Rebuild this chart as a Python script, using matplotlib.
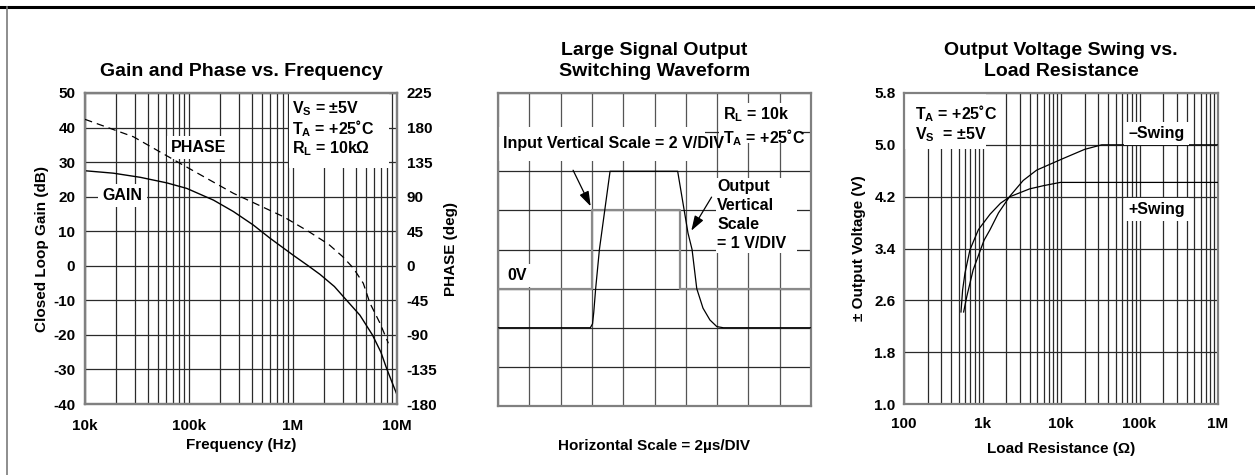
import matplotlib
matplotlib.use("Agg")
import matplotlib.pyplot as plt
from matplotlib.patches import Rectangle
from matplotlib.ticker import FixedLocator, NullFormatter

plt.rcParams["font.family"] = ["Liberation Sans", "DejaVu Sans"]
plt.rcParams["font.weight"] = "bold"
plt.rcParams["axes.labelweight"] = "bold"
plt.rcParams["axes.titleweight"] = "bold"
plt.rcParams["axes.unicode_minus"] = False
plt.rcParams["mathtext.fontset"] = "custom"
plt.rcParams["mathtext.rm"] = "Liberation Sans:bold"
plt.rcParams["mathtext.it"] = "Liberation Sans:bold"
plt.rcParams["mathtext.bf"] = "Liberation Sans:bold"

## data
# gain / phase vs frequency
gain_freq = [1e4, 1.87e4, 3.4e4, 6.1e4, 9.5e4, 1.72e5, 2.67e5, 4.15e5, 6.0e5,
             1.0e6, 1.4e6, 1.82e6, 2.5e6, 3.28e6, 4.4e6, 5.8e6, 7.0e6, 7.9e6,
             8.9e6, 9.9e6]
gain_db = [27.5, 26.8, 25.6, 24.0, 22.4, 19.0, 15.7, 11.8, 8.0,
           3.1, 0.0, -2.5, -6.0, -10.0, -14.3, -20.0, -25.0, -29.5,
           -33.5, -37.0]
phase_freq = [1e4, 2.92e4, 8.2e4, 2.67e5, 8.07e5, 1.4e6, 2.2e6, 3.0e6, 3.8e6,
              4.74e6, 5.5e6, 6.87e6, 8.26e6]
phase_deg = [190.7, 168, 133.4, 94.4, 64, 45, 28, 12, -3,
             -22.8, -48.8, -74.9, -100.9]
freq_ticks = [1e4, 1e5, 1e6, 1e7]
freq_labels = ["10k", "100k", "1M", "10M"]
gain_ticks = [50, 40, 30, 20, 10, 0, -10, -20, -30, -40]
phase_ticks = [225, 180, 135, 90, 45, 0, -45, -90, -135, -180]

# switching waveform, in scope divisions (x: 0..10, y: 0..8)
input_t = [0, 3.0, 3.0, 5.81, 5.81, 10]
input_v = [3, 3, 5, 5, 3, 3]
output_t = [0, 2.95, 3.02, 3.06, 3.12, 3.24, 3.58, 5.74, 6.07, 6.2, 6.35,
            6.55, 6.77, 6.99, 7.2, 10]
output_v = [2, 2, 2.1, 2.4, 3, 4, 6, 6, 4.42, 4, 3, 2.5, 2.2, 2.03, 2, 2]

# output swing vs load
neg_load = [575, 631, 760, 977, 1050, 1247, 1600, 2240, 3300, 4900, 10700,
            20000, 33000, 1e6]
neg_swing = [2.42, 2.66, 3.07, 3.43, 3.53, 3.69, 3.95, 4.21, 4.45, 4.61, 4.79,
             4.93, 5.0, 5.0]
pos_load = [532, 558, 598, 692, 780, 886, 1250, 1700, 2240, 3980, 6000, 9770, 1e6]
pos_swing = [2.42, 2.76, 3.02, 3.38, 3.53, 3.69, 3.93, 4.10, 4.20, 4.32, 4.37,
             4.42, 4.42]
load_ticks = [100, 1e3, 1e4, 1e5, 1e6]
load_labels = ["100", "1k", "10k", "100k", "1M"]
swing_ticks = [1.0, 1.8, 2.6, 3.4, 4.2, 5.0, 5.8]

W, H = 1255, 475
fig = plt.figure(figsize=(W / 100, H / 100), dpi=100)


def px_axes(x0, x1, y0, y1):
    return fig.add_axes([x0 / W, 1 - y1 / H, (x1 - x0) / W, (y1 - y0) / H])


GRID = "#2a2a2a"
SPINE = "#808080"
TXT = 11.5


def style(ax):
    for s in ax.spines.values():
        s.set_color(SPINE)
        s.set_linewidth(1.6)
    ax.set_axisbelow(True)
    ax.tick_params(which="both", length=0, labelsize=11, pad=7)


def white_box(ax, x, y, w, h, transform=None):
    ax.add_patch(Rectangle((x, y), w, h, facecolor="white", edgecolor="none",
                           zorder=2, transform=transform or ax.transAxes,
                           clip_on=False))


# frame lines around the page
fig.add_artist(plt.Line2D([0, 1], [1 - 6.5 / H] * 2, color="black", lw=2.2))
fig.add_artist(plt.Line2D([7 / W] * 2, [0, 1 - 6.5 / H], color="#7a7a7a", lw=1.2))

## panel 1: gain and phase
ax1 = px_axes(85, 397, 93, 404)
style(ax1)
ax1.set_xscale("log")
ax1.set_xlim(1e4, 1e7)
ax1.set_ylim(-40, 50)
ax1.xaxis.set_major_locator(FixedLocator(freq_ticks))
ax1.set_xticklabels(freq_labels)
ax1.xaxis.set_minor_locator(FixedLocator(
    [m * d for d in (1e4, 1e5, 1e6) for m in range(2, 10)]))
ax1.xaxis.set_minor_formatter(NullFormatter())
ax1.tick_params(axis="x", pad=10.5)
ax1.set_yticks(gain_ticks)
ax1.grid(which="both", color=GRID, lw=0.9)
ax1.plot(gain_freq, gain_db, color="black", lw=1.0, zorder=3)
ax1.set_xlabel("Frequency (Hz)", fontsize=11, labelpad=4)
ax1.set_ylabel("Closed Loop Gain (dB)", fontsize=11, labelpad=3)
ax1.set_title("Gain and Phase vs. Frequency", fontsize=14, pad=12)

ax1b = ax1.twinx()
ax1b.set_ylim(-180, 225)
ax1b.set_yticks(phase_ticks)
style(ax1b)
ax1b.plot(phase_freq, phase_deg, color="black", lw=0.9, ls=(0, (6, 4)), zorder=3)
ax1b.set_ylabel("PHASE (deg)", fontsize=11, labelpad=5)

white_box(ax1, 0.655, 0.76, 0.318, 0.238)
ax1.text(0.665, 0.95, "V$_S$ = ±5V", transform=ax1.transAxes, fontsize=TXT,
         va="center", zorder=4)
ax1.text(0.665, 0.885, "T$_A$ = +25˚C", transform=ax1.transAxes, fontsize=TXT,
         va="center", zorder=4)
ax1.text(0.665, 0.82, "R$_L$ = 10kΩ", transform=ax1.transAxes, fontsize=TXT,
         va="center", zorder=4)
ax1.text(0.365, 0.825, "PHASE", transform=ax1.transAxes, fontsize=TXT,
         ha="center", va="center", zorder=4,
         bbox=dict(facecolor="white", edgecolor="none", pad=3))
ax1.text(0.12, 0.67, "GAIN", transform=ax1.transAxes, fontsize=TXT,
         ha="center", va="center", zorder=4,
         bbox=dict(facecolor="white", edgecolor="none", pad=3))

## panel 2: switching waveform
ax2 = px_axes(498, 811, 93, 406)
style(ax2)
ax2.set_xlim(0, 10)
ax2.set_ylim(0, 8)
ax2.set_xticks(range(11))
ax2.set_yticks(range(9))
ax2.set_xticklabels([])
ax2.set_yticklabels([])
ax2.grid(axis="x", color="#555555", lw=0.9)
ax2.grid(axis="y", color=GRID, lw=0.9)
ax2.plot(input_t, input_v, color="#8a8a8a", lw=1.6, zorder=3)
ax2.plot(output_t, output_v, color="black", lw=0.9, zorder=3)
ax2.set_title("Large Signal Output\nSwitching Waveform", fontsize=14, pad=12,
              linespacing=1.35)
ax2.set_xlabel("Horizontal Scale = 2µs/DIV", fontsize=11, labelpad=17)

tr = ax2.transData
white_box(ax2, 0, 6.27, 6.6, 0.87, tr)
ax2.text(0.15, 6.7, "Input Vertical Scale = 2 V/DIV", fontsize=TXT,
         va="center", zorder=4)
white_box(ax2, 7.05, 6.73, 2.6, 1.02, tr)
ax2.text(7.2, 7.45, "R$_L$ = 10k", fontsize=TXT, va="center", zorder=4)
ax2.text(7.2, 6.85, "T$_A$ = +25˚C", fontsize=TXT, va="center", zorder=4)
white_box(ax2, 6.95, 3.92, 2.6, 1.9, tr)
ax2.text(7.0, 5.6, "Output", fontsize=TXT, va="center", zorder=4)
ax2.text(7.0, 5.12, "Vertical", fontsize=TXT, va="center", zorder=4)
ax2.text(7.0, 4.63, "Scale", fontsize=TXT, va="center", zorder=4)
ax2.text(7.0, 4.15, "= 1 V/DIV", fontsize=TXT, va="center", zorder=4)
ax2.text(0.3, 3.33, "0V", fontsize=TXT, va="center", zorder=4,
         bbox=dict(facecolor="white", edgecolor="none", pad=3))
arrow = dict(arrowstyle="-|>,head_length=0.9,head_width=0.3", color="black", lw=0.9)
ax2.annotate("", xy=(3.0, 5.04), xytext=(2.36, 6.09), arrowprops=arrow, zorder=4)
ax2.annotate("", xy=(6.13, 4.42), xytext=(6.87, 5.40), arrowprops=arrow, zorder=4)

## panel 3: output swing vs load
ax3 = px_axes(904, 1218, 93, 404)
style(ax3)
ax3.set_xscale("log")
ax3.set_xlim(100, 1e6)
ax3.set_ylim(1.0, 5.8)
ax3.xaxis.set_major_locator(FixedLocator(load_ticks))
ax3.set_xticklabels(load_labels)
ax3.xaxis.set_minor_locator(FixedLocator(
    [m * d for d in (1e2, 1e3, 1e4, 1e5) for m in range(2, 10)]))
ax3.xaxis.set_minor_formatter(NullFormatter())
ax3.tick_params(axis="x", pad=9)
ax3.set_yticks(swing_ticks)
ax3.set_yticklabels([f"{v:.1f}" for v in swing_ticks])
ax3.tick_params(axis="y", pad=6)
ax3.grid(which="both", color=GRID, lw=0.9)
ax3.plot(neg_load, neg_swing, color="black", lw=0.9, zorder=3)
ax3.plot(pos_load, pos_swing, color="black", lw=0.9, zorder=3)
ax3.set_xlabel("Load Resistance (Ω)", fontsize=11, labelpad=8)
ax3.set_ylabel("± Output Voltage (V)", fontsize=11, labelpad=6)
ax3.set_title("Output Voltage Swing vs.\nLoad Resistance", fontsize=14, pad=12,
              linespacing=1.35)

white_box(ax3, 0.0, 0.82, 0.26, 0.18)
ax3.text(0.035, 0.935, "T$_A$ = +25˚C", transform=ax3.transAxes, fontsize=TXT,
         va="center", zorder=4)
ax3.text(0.035, 0.865, "V$_S$  = ±5V", transform=ax3.transAxes, fontsize=TXT,
         va="center", zorder=4)
ax3.text(0.715, 0.87, "–Swing", transform=ax3.transAxes, fontsize=TXT,
         va="center", zorder=4,
         bbox=dict(facecolor="white", edgecolor="none", pad=3))
ax3.text(0.715, 0.625, "+Swing", transform=ax3.transAxes, fontsize=TXT,
         va="center", zorder=4,
         bbox=dict(facecolor="white", edgecolor="none", pad=3))

fig.savefig("out.png", dpi=100)
